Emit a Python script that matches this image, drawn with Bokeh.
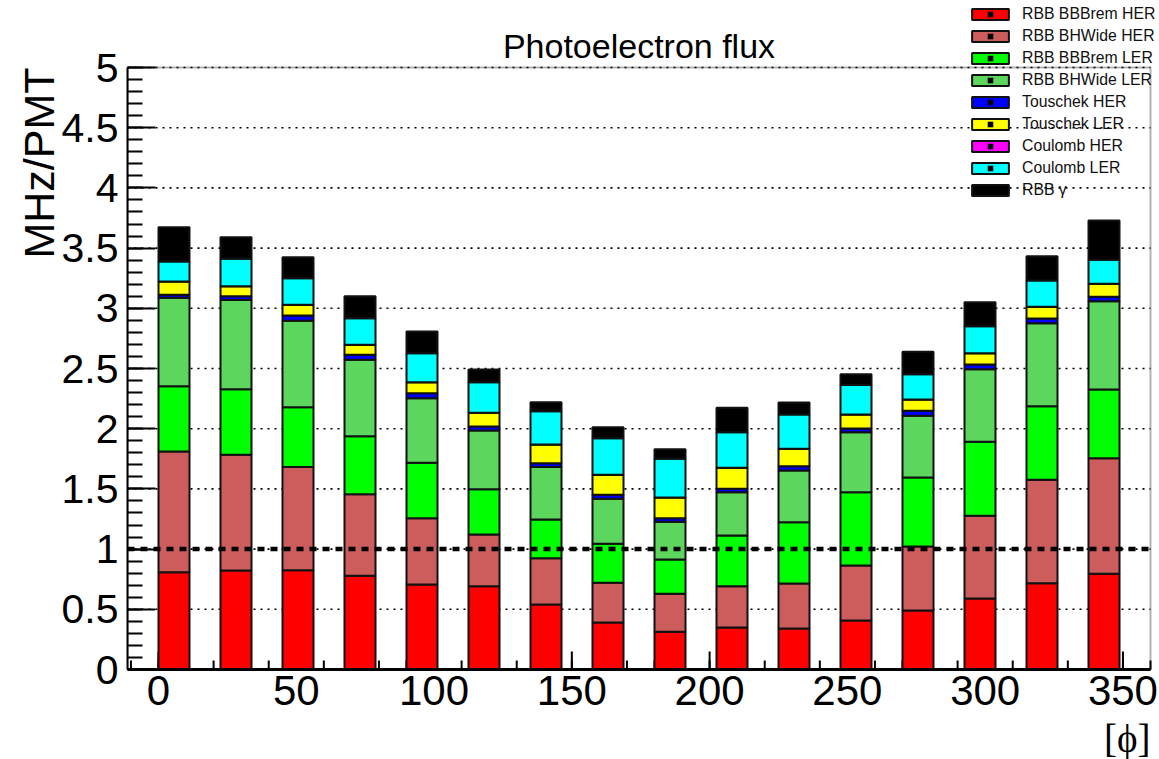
import math
import numpy as np
import pandas as pd
from bokeh.plotting import figure
from bokeh.models import (ColumnDataSource, FixedTicker, CustomJSTickFormatter,
                          Label, Legend, LegendItem, Range1d, Title, BoxAnnotation)
from bokeh.embed import file_html
from bokeh.resources import INLINE

# ---- data ----
phi = [0.0, 22.5, 45.0, 67.5, 90.0, 112.5, 135.0, 157.5,
       180.0, 202.5, 225.0, 247.5, 270.0, 292.5, 315.0, 337.5]
bin_width = 22.5

rbb_bbbrem_her = [0.808, 0.822, 0.825, 0.778, 0.706, 0.692, 0.540, 0.390,
                  0.313, 0.349, 0.341, 0.407, 0.490, 0.590, 0.717, 0.795]
rbb_bhwide_her = [1.003, 0.961, 0.856, 0.678, 0.551, 0.429, 0.385, 0.330,
                  0.316, 0.343, 0.373, 0.457, 0.532, 0.686, 0.859, 0.960]
rbb_bbbrem_ler = [0.542, 0.545, 0.498, 0.482, 0.460, 0.377, 0.321, 0.324,
                  0.285, 0.421, 0.510, 0.609, 0.573, 0.615, 0.611, 0.571]
rbb_bhwide_ler = [0.734, 0.740, 0.717, 0.634, 0.536, 0.487, 0.435, 0.374,
                  0.313, 0.360, 0.429, 0.498, 0.512, 0.603, 0.689, 0.733]
touschek_her = [0.025, 0.033, 0.044, 0.042, 0.042, 0.033, 0.033, 0.033,
                0.030, 0.028, 0.036, 0.031, 0.042, 0.039, 0.039, 0.037]
touschek_ler = [0.111, 0.083, 0.089, 0.083, 0.091, 0.114, 0.155, 0.166,
                0.172, 0.174, 0.144, 0.116, 0.094, 0.094, 0.097, 0.107]
coulomb_her = [0.0, 0.0, 0.0, 0.0, 0.0, 0.0, 0.0, 0.0,
               0.0, 0.0, 0.0, 0.0, 0.0, 0.0, 0.0, 0.0]
coulomb_ler = [0.166, 0.227, 0.221, 0.221, 0.241, 0.254, 0.276, 0.304,
               0.321, 0.296, 0.285, 0.244, 0.210, 0.224, 0.219, 0.200]
rbb_gamma = [0.285, 0.180, 0.175, 0.183, 0.180, 0.106, 0.075, 0.092,
             0.080, 0.202, 0.100, 0.091, 0.186, 0.200, 0.202, 0.326]

series_names = ["RBB BBBrem HER", "RBB BHWide HER", "RBB BBBrem LER", "RBB BHWide LER",
                "Touschek HER", "Touschek LER", "Coulomb HER", "Coulomb LER", "RBB \u03b3"]
series_keys = ["bbbrem_her", "bhwide_her", "bbbrem_ler", "bhwide_ler",
               "tou_her", "tou_ler", "coul_her", "coul_ler", "gamma"]
series_colors = ["#ff0000", "#cd5c5c", "#00ff00", "#5cd65c",
                 "#0000ff", "#ffff00", "#ff00ff", "#00ffff", "#000000"]

x_ticks = [0, 50, 100, 150, 200, 250, 300, 350]
x_minor_ticks = list(range(-10, 361, 10))
y_ticks = [0, 0.5, 1, 1.5, 2, 2.5, 3, 3.5, 4, 4.5, 5]
y_minor_ticks = [round(0.1 * i, 1) for i in range(51)]
reference_level = 1.0

# axis box (data units) and page geometry (pixels)
x_lo, x_hi = -bin_width / 2, 360.0
y_lo, y_hi = 0.0, 5.0
W, H = 1159, 759
left_px, right_px, top_px, bottom_px = 127, 1150, 67, 669      # visible axis box
frame_top_px, frame_right_px = 4, W                             # extended frame (room for legend/title)
px_per_y = (bottom_px - top_px) / (y_hi - y_lo)
px_per_x = (right_px - left_px) / (x_hi - x_lo)

# ---- build ----
df = pd.DataFrame({
    "phi": phi,
    "bbbrem_her": rbb_bbbrem_her, "bhwide_her": rbb_bhwide_her,
    "bbbrem_ler": rbb_bbbrem_ler, "bhwide_ler": rbb_bhwide_ler,
    "tou_her": touschek_her, "tou_ler": touschek_ler,
    "coul_her": coulomb_her, "coul_ler": coulomb_ler, "gamma": rbb_gamma,
})
df["xc"] = df["phi"] + bin_width / 4.0
src = ColumnDataSource(df)

FONT = "Liberation Sans"

p = figure(width=W, height=H, output_backend="svg", toolbar_location=None,
           x_range=Range1d(x_lo, x_hi + (frame_right_px - right_px) / px_per_x),
           y_range=Range1d(y_lo - (H - bottom_px) / px_per_y,
                           y_hi + (top_px - frame_top_px) / px_per_y),
           min_border_left=left_px, min_border_right=W - frame_right_px,
           min_border_top=frame_top_px, min_border_bottom=0,
           title=None, background_fill_color="white", border_fill_color="white")
p.outline_line_color = None
p.xgrid.visible = False
p.ygrid.visible = False

# dotted horizontal grid, limited to the axis box
p.segment(x0=[x_lo] * len(y_ticks), y0=y_ticks, x1=[x_hi] * len(y_ticks), y1=y_ticks,
          line_color="black", line_dash="2 5", line_width=1.6, level="underlay")

# x ticks drawn under the bars (like ROOT)
major_len = 18 / px_per_y
minor_len = 9 / px_per_y
p.segment(x0=x_minor_ticks, y0=[0] * len(x_minor_ticks), x1=x_minor_ticks,
          y1=[minor_len] * len(x_minor_ticks), line_color="black", line_width=2, level="underlay")
p.segment(x0=x_ticks, y0=[0] * len(x_ticks), x1=x_ticks,
          y1=[major_len] * len(x_ticks), line_color="black", line_width=2, level="underlay")

renderers = p.vbar_stack(series_keys, x="xc", width=bin_width / 2, source=src,
                         fill_color=series_colors, line_color="#111111", line_width=2)

# thick dashed reference line over the bars
p.segment(x0=[x_lo], y0=[reference_level], x1=[x_hi], y1=[reference_level],
          line_color="black", line_width=4.5, line_dash="7 6")

# axes
xa = p.xaxis[0]
xa.ticker = FixedTicker(ticks=x_ticks, minor_ticks=x_minor_ticks)
xa.bounds = (x_lo, x_hi)
xa.fixed_location = y_lo
xa.major_tick_in = 0
xa.major_tick_out = 0
xa.minor_tick_in = 0
xa.minor_tick_out = 0
xa.axis_line_width = 3
xa.major_label_text_font = FONT
xa.major_label_text_font_size = "42px"
xa.major_label_text_color = "black"
xa.major_label_standoff = 6

ya = p.yaxis[0]
ya.ticker = FixedTicker(ticks=y_ticks, minor_ticks=y_minor_ticks)
ya.formatter = CustomJSTickFormatter(code="return String(Math.round(tick*10)/10)")
ya.bounds = (y_lo, y_hi)
ya.major_tick_in = 28
ya.major_tick_out = 0
ya.minor_tick_in = 15
ya.minor_tick_out = 0
ya.axis_line_width = 2
ya.major_tick_line_width = 2
ya.minor_tick_line_width = 2
ya.major_label_text_font = FONT
ya.major_label_text_font_size = "41px"
ya.major_label_text_color = "black"
ya.major_label_standoff = 9

# frame box of the axes
p.add_layout(BoxAnnotation(left=x_lo, right=x_hi, bottom=y_lo, top=y_hi,
                           fill_color=None, fill_alpha=0, line_color="black", line_width=2,
                           level="underlay"))

# legend with small centre dot like ROOT markers (location = bottom-left corner)
legend_bottom_px = 199
dot = p.scatter(x=[float("nan")], y=[float("nan")], marker="square", size=1.5,
                line_width=0, color="black")
items = [LegendItem(label=n, renderers=[r, dot]) for n, r in zip(series_names, renderers)]
legend = Legend(items=items, location=(967 - left_px, H - legend_bottom_px), padding=0, margin=0, spacing=4,
                glyph_width=46, glyph_height=14, label_height=14, label_standoff=9,
                label_text_font=FONT, label_text_font_size="15.8px", label_text_color="#111111",
                background_fill_alpha=0, border_line_alpha=0)
p.add_layout(legend)

# title inside the (extended) frame
p.add_layout(Label(x=(left_px + right_px) / 2 - left_px, y=H - 45, x_units="screen", y_units="screen",
                   text="Photoelectron flux", text_align="center", text_baseline="alphabetic",
                   text_font=FONT, text_font_size="34px", text_color="black"))

# x title at bottom right
p.add_layout(Label(x=right_px - left_px, y=H - 738, x_units="screen", y_units="screen",
                   text="[\u03d5]", text_align="right", text_baseline="middle",
                   text_font="Liberation Serif", text_font_size="39px", text_color="black"))

# y title as side-panel title
p.add_layout(Title(text="MHz/PMT", align="right", offset=top_px - frame_top_px,
                   text_font=FONT, text_font_size="43px", text_font_style="normal",
                   text_color="black", standoff=-8), "left")

open("out.html", "w").write(file_html(p, INLINE))
